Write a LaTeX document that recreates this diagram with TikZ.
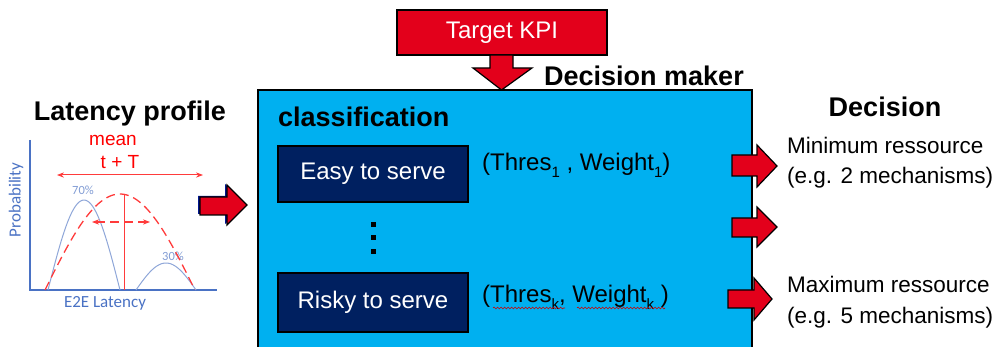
\documentclass[tikz,border=0pt]{standalone}
\usepackage{fontspec}
\setmainfont{Liberation Sans}
\newfontfamily\calib{Carlito}
\usetikzlibrary{decorations.pathmorphing,arrows.meta}
\definecolor{boxblue}{HTML}{00B0F0}
\definecolor{navy}{HTML}{002060}
\definecolor{kred}{HTML}{E3001B}
\definecolor{chartblue}{HTML}{4A72C4}
\definecolor{curveblue}{HTML}{8EA6D8}
\definecolor{chartred}{HTML}{FF3B3B}
\newcommand{\fsz}[1]{\fontsize{#1}{#1}\selectfont}
\newcommand{\sbs}[1]{\raisebox{-0.28em}{\fontsize{15}{15}\selectfont #1}}
\tikzset{
  redarrow/.style={fill=kred, draw=black, line width=1.2pt, line join=miter},
  heading/.style={font=\fsz{27}\bfseries, inner sep=0pt},
  classbox/.style={fill=navy, draw=black, line width=1.2pt, text=white, font=\fsz{24}, inner sep=0pt},
  plain/.style={font=\fsz{23}, inner sep=0pt},
  chartlbl/.style={font=\calib\fsz{17}, text=chartblue, inner sep=0pt},
}
\begin{document}
\begin{tikzpicture}[x=1pt,y=-1pt]
\useasboundingbox (0,0) rectangle (994,347);
% Decision maker box
\draw[fill=boxblue, line width=1.6pt] (258,90) rectangle (752,370);
% Target KPI
\node[fill=kred, draw=black, line width=1.2pt, minimum width=210pt, minimum height=45pt, text=white, font=\fsz{24}, inner sep=0pt] (kpi) at (502,32.5) {Target KPI};
\draw[redarrow] (490,55) -- (513,55) -- (513,68) -- (532,68) -- (501.5,90) -- (473,68) -- (490,68) -- cycle;
\node[heading] (dm) at (644,76) {Decision maker};
% headings
\node[heading] (lp) at (130,114) {Latency profile};
\node[heading, anchor=west] (cls) at (278,117) {classification};
\node[heading] (dec) at (885,107) {Decision};
% chart
\draw[chartblue, line width=2.5pt] (30,140) -- (30,290) -- (217,290);
\node[chartlbl, rotate=90] (prob) at (16,200) {Probability};
\node[chartlbl] (e2e) at (105,303) {E2E Latency};
\draw[curveblue, line width=1pt] plot[domain=0:1, samples=50] ({48+72*\x},{290-90*sin(180*\x)});
\draw[curveblue, line width=1pt] plot[domain=0:1, samples=40] ({136+60*\x},{290-27*sin(180*\x)});
\node[chartlbl, font=\calib\fsz{12.5}, text=curveblue!80!chartblue] (p70) at (83,190) {70\%};
\node[chartlbl, font=\calib\fsz{12.5}, text=curveblue!80!chartblue] (p30) at (173,256) {30\%};
\draw[chartred, line width=1.3pt, dash pattern=on 9pt off 5pt] plot[domain=0:1, samples=60] ({45+150*\x},{290-96*sin(180*\x)});
\draw[chartred, line width=1pt] (124,194) -- (124,290);
\draw[chartred, line width=1pt, {Stealth[length=7pt]}-{Stealth[length=7pt]}] (57,175) -- (203,175);
\draw[chartred, line width=1.3pt, dash pattern=on 9pt off 5pt, {Stealth[length=7pt]}-{Stealth[length=7pt]}] (92,222) -- (150,222);
\node[font=\fsz{19}, text=red, inner sep=0pt] (mean) at (113,140) {mean};
\node[font=\fsz{19}, text=red, inner sep=0pt] (tT) at (120,162) {t + T};
% left arrow
\fill[navy!70!blue] (198,196) -- (225,196) -- (225,184) -- (245,204) -- (225,224) -- (225,214) -- (198,214) -- cycle;
\draw[redarrow] (200,197) -- (227,197) -- (227,185) -- (247,205) -- (227,225) -- (227,215) -- (200,215) -- cycle;
% class boxes
\node[classbox, minimum width=190pt, minimum height=56pt] (easy) at (373,174) {Easy to serve};
\node[classbox, minimum width=190pt, minimum height=59pt] (risky) at (373,302.5) {Risky to serve};
\fill (370.5,222.5) rectangle (375.5,227.5);
\fill (370.5,235) rectangle (375.5,240);
\fill (370.5,249.5) rectangle (375.5,254.5);
\node[font=\fsz{24}, inner sep=0pt, anchor=west] (tw1) at (482,165) {(Thres\sbs{1} , Weight\sbs{1})};
\node[font=\fsz{24}, inner sep=0pt, anchor=west] (twk) at (482,297) {(Thres\sbs{k}, Weight\sbs{k} )};
\draw[red!80!black, line width=0.6pt, decorate, decoration={snake, amplitude=0.9pt, segment length=3.5pt}] (493,308) -- (565,308);
\draw[red!80!black, line width=0.6pt, decorate, decoration={snake, amplitude=0.9pt, segment length=3.5pt}] (577,308) -- (665,308);
% right arrows
\draw[redarrow] (732,155) -- (757,155) -- (757,145) -- (777,166) -- (757,187) -- (757,176) -- (732,176) -- cycle;
\draw[redarrow] (732,218) -- (757,218) -- (757,207) -- (777,227) -- (757,247) -- (757,237) -- (732,237) -- cycle;
\draw[redarrow] (728,290) -- (754,290) -- (754,278) -- (772,299) -- (754,320) -- (754,308) -- (728,308) -- cycle;
% decision texts
\node[plain, anchor=west, align=left, font=\fsz{22.5}\linespread{1}] (minr) at (787,162.5) {Minimum ressource\\[8pt](e.g. 2 mechanisms)};
\node[plain, anchor=west, align=left, font=\fsz{22.5}] (maxr) at (787,302) {Maximum ressource\\[8pt](e.g. 5 mechanisms)};
\end{tikzpicture}
\end{document}
